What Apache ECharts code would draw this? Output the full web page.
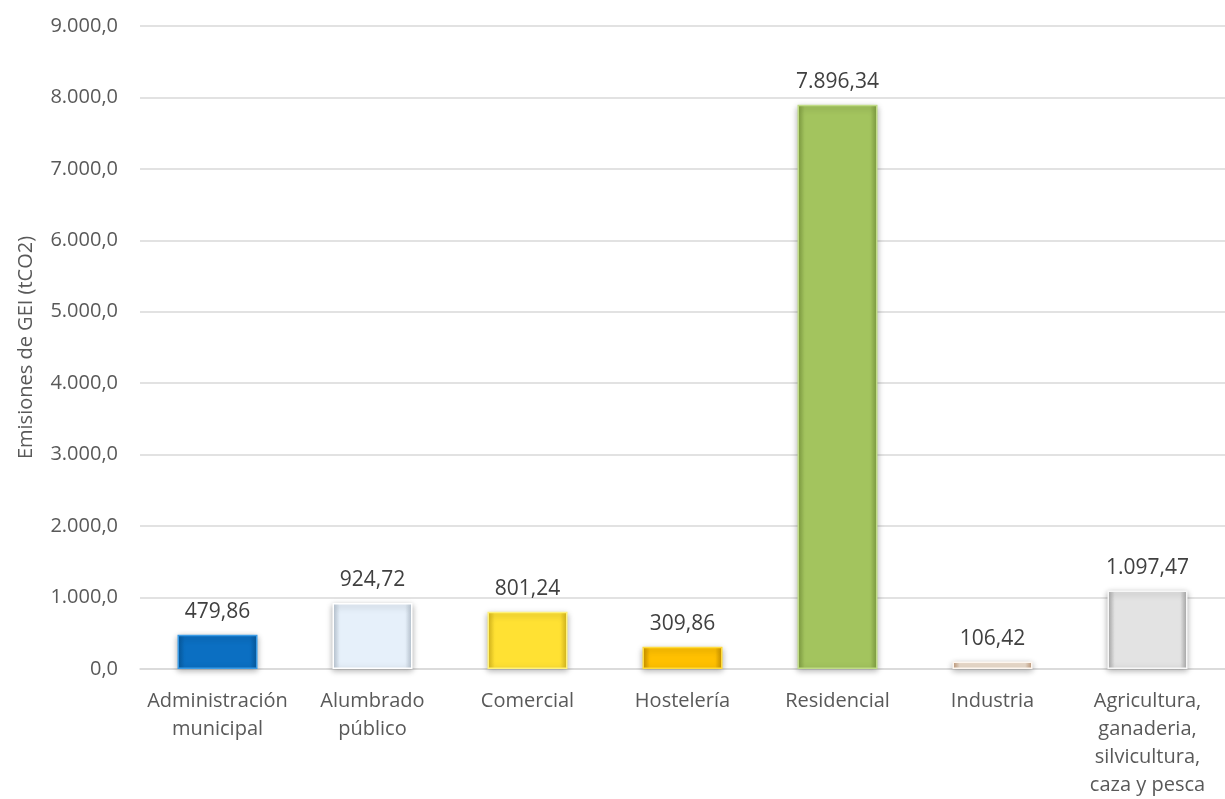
<!DOCTYPE html>
<html><head><meta charset="utf-8">
<script src="https://cdn.jsdelivr.net/npm/echarts@6/dist/echarts.min.js"></script>
<style>html,body{margin:0;padding:0;background:#fff}#c{width:1225px;height:799px}</style>
</head><body><div id="c"></div>
<script>
const categories = ["Administración\nmunicipal","Alumbrado\npúblico","Comercial","Hostelería","Residencial","Industria","Agricultura,\nganaderia,\nsilvicultura,\ncaza y pesca"];
const values = [479.86, 924.72, 801.24, 309.86, 7896.34, 106.42, 1097.47];
const yTicks = [0,1000,2000,3000,4000,5000,6000,7000,8000,9000];
const barColors = [
  ["#3a9be6","#0b6fc2","#075a9e"],
  ["#ffffff","#e6f0fa","#b9c6d3"],
  ["#fff27a","#ffe133","#d9b81c"],
  ["#ffdc3c","#ffc000","#c99200"],
  ["#c0dc86","#a3c45e","#7f9e40"],
  ["#fdf6ef","#f3e3d3","#c39a78"],
  ["#f7f7f7","#e3e3e3","#a8a8a8"]
];
function fmt(v, d){
  const s = v.toFixed(d).split('.');
  const i = s[0].replace(/\B(?=(\d{3})+(?!\d))/g,'.');
  return d>0 ? i+','+s[1] : i;
}
const chart = echarts.init(document.getElementById('c'));
chart.setOption({
  animation:false,
  textStyle:{fontFamily:"Open Sans"},
  grid:{left:140,width:1099,top:26,bottom:129,containLabel:false},
  xAxis:{type:'category',data:categories,
    axisLine:{lineStyle:{color:'#d9d9d9',width:1.5}},axisTick:{show:false},
    axisLabel:{color:'#595959',fontSize:20,lineHeight:28,margin:18,interval:0}},
  yAxis:{type:'value',min:0,max:9000,interval:1000,
    name:'Emisiones de GEI (tCO2)',nameLocation:'middle',nameRotate:90,nameGap:104,
    nameTextStyle:{color:'#595959',fontSize:20,fontFamily:'Open Sans'},
    axisLabel:{color:'#595959',fontSize:20,margin:22,formatter:v=>fmt(v,1)},
    axisLine:{show:false},axisTick:{show:false},
    splitLine:{lineStyle:{color:'#d9d9d9',width:1.5}}},
  series:[{type:'bar',barWidth:80,z:2,
    data:values.map((v,i)=>({value:v,itemStyle:{
      color:new echarts.graphic.LinearGradient(0,0,1,0,[
        {offset:0,color:barColors[i][2]},{offset:0.09,color:barColors[i][1]},
        {offset:0.91,color:barColors[i][1]},{offset:1,color:barColors[i][2]}]),
      borderColor:barColors[i][0],borderWidth:1.5,
      shadowColor:'rgba(0,0,0,0.3)',shadowBlur:6,shadowOffsetY:2}})),
    label:{show:true,position:'top',distance:12,color:'#404040',fontSize:21,
      formatter:p=>fmt(p.value,2)}}]
});
</script></body></html>
